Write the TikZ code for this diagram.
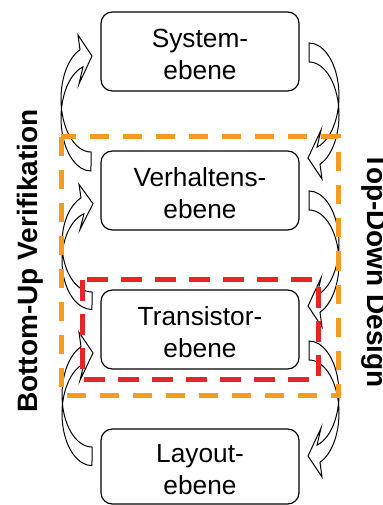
\documentclass[tikz,border=0pt]{standalone}
\usepackage{fontspec}
\setmainfont{Liberation Sans}
\definecolor{dashorange}{RGB}{244,155,32}
\definecolor{dashred}{RGB}{228,38,38}
\tikzset{
  box/.style={draw=black, line width=0.9pt, rounded corners=8.5pt,
    minimum width=148.5pt, minimum height=59.25pt, inner sep=0pt},
  boxtext/.style={align=center, inner sep=0pt, yshift=-2.25pt,
    font=\fontsize{19.7}{24}\selectfont},
  arr/.style={draw=black, fill=white, line width=0.75pt, line join=miter},
  odash/.style={draw=dashorange, line width=3.75pt, dash pattern=on 14.25pt off 10.5pt},
  rdash/.style={draw=dashred, line width=3.75pt, dash pattern=on 15.75pt off 9.75pt},
  side/.style={font=\fontsize{21}{25}\selectfont\bfseries, inner sep=0pt}
}
\newcommand\curvarr{%
  \draw[arr] (0,0) arc[start angle=90, end angle=248.5, x radius=30, y radius=53]
    -- (-13,-117) -- (1,-96) -- (-12,-68) -- (-8.02,-85.07)
    arc[start angle=254.5, end angle=90, x radius=30, y radius=53] -- cycle;}
\begin{document}
\begin{tikzpicture}[x=0.75pt,y=-0.75pt]
\useasboundingbox (0,0) rectangle (382,505);
% boxes
\node[box] (b1) at (200,51.5) {};
\node[boxtext] (t1) at (b1.center) {System-\\ebene};
\node[box] (b2) at (200,190.5) {};
\node[boxtext] (t2) at (b2.center) {Verhaltens-\\ebene};
\node[box] (b3) at (200,329.5) {};
\node[boxtext] (t3) at (b3.center) {Transistor-\\ebene};
\node[box, minimum height=56.25pt] (b4) at (200,466.5) {};
\node[boxtext] (t4) at (b4.center) {Layout-\\ebene};
% left arrows (bottom-up)
\begin{scope}[shift={(91,152)}] \curvarr \end{scope}
\begin{scope}[shift={(92,292)}, yscale=0.92] \curvarr \end{scope}
\begin{scope}[shift={(92,447)}, yscale=0.98] \curvarr \end{scope}
% right arrows (top-down)
\begin{scope}[shift={(309,62)}, rotate=180] \curvarr \end{scope}
\begin{scope}[shift={(309,210)}, rotate=180] \curvarr \end{scope}
\begin{scope}[shift={(309,360)}, rotate=180] \curvarr \end{scope}
% side labels
\node[side, rotate=90, anchor=base] (lbl) at (37,261) {Bottom-Up Verifikation};
\node[side, rotate=-90, anchor=base] (lbr) at (367,270) {Top-Down Design};
% dashed frames
\draw[odash] (61,137) rectangle (338.5,395);
\draw[rdash] (82,279.5) rectangle (318,379.5);
\end{tikzpicture}
\end{document}
